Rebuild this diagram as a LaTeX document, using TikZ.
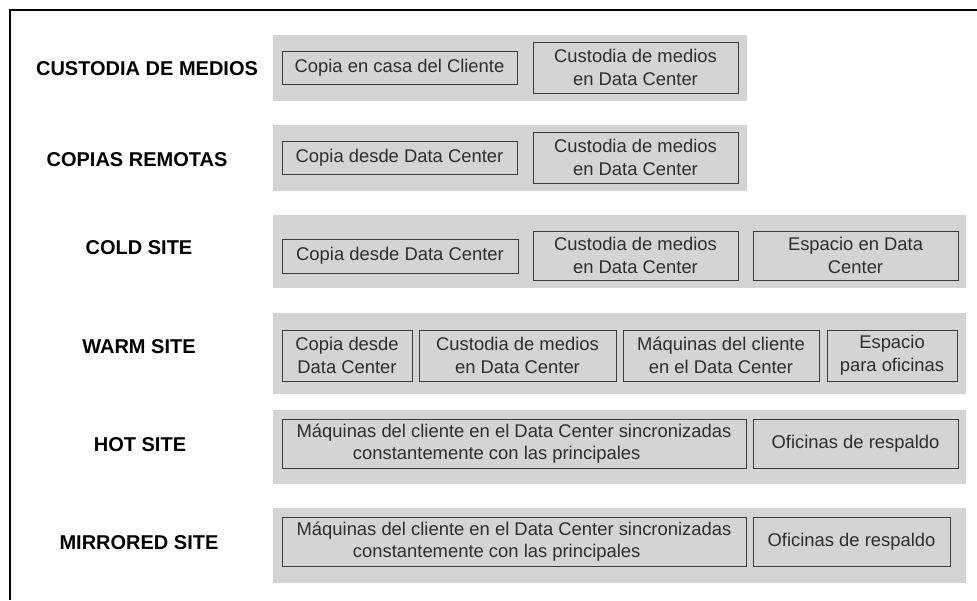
\documentclass[tikz,border=0pt]{standalone}
\usepackage{fontspec}
\setmainfont{Liberation Sans}
\definecolor{banda}{HTML}{D4D4D4}
\definecolor{borde}{HTML}{3C3C3C}
\definecolor{texto}{HTML}{2E2E2E}
\begin{document}
\begin{tikzpicture}[x=0.75pt,y=-0.75pt,
  titulo/.style={font=\fontsize{15}{18}\selectfont\bfseries},
  caja/.style n args={2}{draw=borde,fill=banda,line width=0.75pt,text=texto,align=center,
    minimum width=#1*0.75pt,minimum height=#2*0.75pt,inner sep=2pt,
    font=\fontsize{13.8}{17}\selectfont}]
\useasboundingbox (0,0) rectangle (977,600);
\draw [line width=0.8pt] (977,10)--(10,10)--(10,600);

\fill [banda] (273,35) rectangle (747,101);
\fill [banda] (273,125) rectangle (747,191);
\fill [banda] (273,215) rectangle (966,288);
\fill [banda] (273,313) rectangle (966,394);
\fill [banda] (273,410) rectangle (966,484);
\fill [banda] (273,508) rectangle (966,583);

\node [titulo] (custodia) at (147,69) {CUSTODIA DE MEDIOS};
\node [caja={235}{33}] (custodia1) at (399.5,67.5) {Copia en casa del Cliente};
\node [caja={205}{51}] (custodia2) at (635.5,67.5) {Custodia de medios\\en Data Center};

\node [titulo] (remotas) at (137,160) {COPIAS REMOTAS};
\node [caja={235}{33}] (remotas1) at (399.5,157.5) {Copia desde Data Center};
\node [caja={205}{51}] (remotas2) at (635.5,157.5) {Custodia de medios\\en Data Center};

\node [titulo] (cold) at (139,248) {COLD SITE};
\node [caja={236}{34}] (cold1) at (400,256) {Copia desde Data Center};
\node [caja={205}{49}] (cold2) at (635.5,255.5) {Custodia de medios\\en Data Center};
\node [caja={205}{49}] (cold3) at (855.5,255.5) {Espacio en Data\\Center};

\node [titulo] (warm) at (139,347) {WARM SITE};
\node [caja={130}{51}] (warm1) at (347,355.5) {Copia desde\\Data Center};
\node [caja={197}{51}] (warm2) at (517.5,355.5) {Custodia de medios\\en Data Center};
\node [caja={196}{51}] (warm3) at (721,355.5) {Máquinas del cliente\\en el Data Center};
\node [caja={130}{51}] (warm4) at (892,355.5) {Espacio\\para oficinas};

\node [titulo] (hot) at (140,445) {HOT SITE};
\node [caja={464}{49}] (hot1) at (514,443.5) {Máquinas del cliente en el Data Center sincronizadas\\constantemente con las principales\hspace*{26pt}};
\node [caja={205}{49}] (hot2) at (855.5,443.5) {Oficinas de respaldo};

\node [titulo] (mirrored) at (139,543) {MIRRORED SITE};
\node [caja={464}{49}] (mirrored1) at (514,541.5) {Máquinas del cliente en el Data Center sincronizadas\\constantemente con las principales\hspace*{26pt}};
\node [caja={197}{49}] (mirrored2) at (851.5,541.5) {Oficinas de respaldo};

\end{tikzpicture}
\end{document}
